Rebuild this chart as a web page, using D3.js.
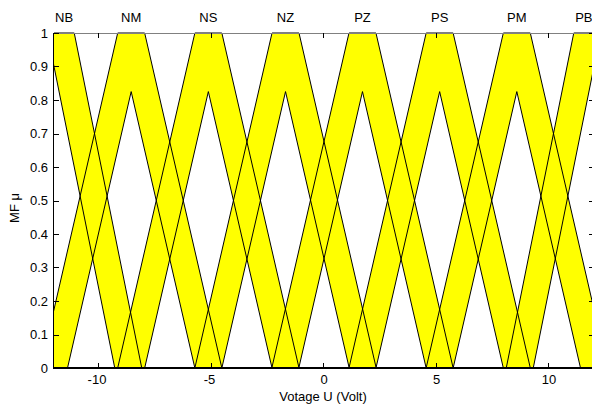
<!DOCTYPE html>
<html>
<head>
<meta charset="utf-8">
<script src="https://cdn.jsdelivr.net/npm/d3@7"></script>
<style>
body { margin: 0; background: #fff; }
svg text { font-family: "Liberation Sans", Arial, Helvetica, sans-serif; font-size: 13px; fill: #000; }
</style>
</head>
<body>
<div id="chart"></div>
<script>
"use strict";
let width = 592;
let height = 405;
let plotLeft = 54, plotRight = 594, plotTop = 33, plotBottom = 368;

// Membership functions (interval type-2): center, half plateau spread, slope width
let mfNames   = ["NB", "NM", "NS", "NZ", "PZ", "PS", "PM", "PB"];
let mfShapes  = ["z", "tri", "tri", "tri", "tri", "tri", "tri", "s"];
let mfCenters = [-11.7, -8.57, -5.14, -1.71, 1.71, 5.14, 8.57, 11.7];
let mfSpread  = [0.6, 0.6, 0.6, 0.6, 0.6, 0.6, 0.6, 0.6];
let mfWidth   = [3.0, 3.43, 3.43, 3.43, 3.43, 3.43, 3.43, 3.0];

let xDomain = [-12, 12];
let xTicks = [-10, -5, 0, 5, 10];
let yTicks = [0, 0.1, 0.2, 0.3, 0.4, 0.5, 0.6, 0.7, 0.8, 0.9, 1];
let xTitle = "Votage U (Volt)";
let yTitle = "MF \u03bc";

let xScale = d3.scaleLinear().domain(xDomain).range([plotLeft, plotRight]);
let yScale = d3.scaleLinear().domain([0, 1]).range([plotBottom, plotTop]);

let svg = d3.select("#chart").append("svg")
    .attr("width", width)
    .attr("height", height);

svg.append("defs").append("clipPath").attr("id", "plotclip")
    .append("rect")
    .attr("x", plotLeft).attr("y", plotTop - 1)
    .attr("width", plotRight - plotLeft).attr("height", plotBottom - plotTop + 2);

// upper and lower membership polylines, extended past the axis and clipped
function upperPoints(i) {
    let c = mfCenters[i], s = mfSpread[i], w = mfWidth[i];
    if (mfShapes[i] === "z") return [[-20, 1], [c + s, 1], [c + s + w, 0], [20, 0]];
    if (mfShapes[i] === "s") return [[-20, 0], [c - s - w, 0], [c - s, 1], [20, 1]];
    return [[-20, 0], [c - s - w, 0], [c - s, 1], [c + s, 1], [c + s + w, 0], [20, 0]];
}
function lowerPoints(i) {
    let c = mfCenters[i], s = mfSpread[i], w = mfWidth[i];
    if (mfShapes[i] === "z") return [[-20, 1], [c - s, 1], [c - s + w, 0], [20, 0]];
    if (mfShapes[i] === "s") return [[-20, 0], [c + s - w, 0], [c + s, 1], [20, 1]];
    return [[-20, 0], [c + s - w, 0], [c, 1 - s / w], [c - s + w, 0], [20, 0]];
}
// label sits in the middle of the visible plateau
function labelX(i) {
    let c = mfCenters[i], s = mfSpread[i];
    if (mfShapes[i] === "z") return (xDomain[0] + Math.min(c + s, xDomain[1])) / 2;
    if (mfShapes[i] === "s") return (Math.max(c - s, xDomain[0]) + xDomain[1]) / 2;
    return c;
}

let line = d3.line().x(function(d) { return xScale(d[0]); }).y(function(d) { return yScale(d[1]); });

let plot = svg.append("g").attr("clip-path", "url(#plotclip)");

// yellow band between upper and lower MF
plot.selectAll("path.band")
    .data(d3.range(mfNames.length))
    .enter()
    .append("path")
    .attr("class", "band")
    .attr("d", function(i) {
        return line(upperPoints(i).concat(lowerPoints(i).slice().reverse())) + "Z";
    })
    .attr("fill", "#ffff00")
    .attr("stroke", "none");

plot.selectAll("path.upper")
    .data(d3.range(mfNames.length))
    .enter()
    .append("path")
    .attr("class", "upper")
    .attr("d", function(i) { return line(upperPoints(i)); })
    .attr("fill", "none")
    .attr("stroke", "#000")
    .attr("stroke-width", 1);

plot.selectAll("path.lower")
    .data(d3.range(mfNames.length))
    .enter()
    .append("path")
    .attr("class", "lower")
    .attr("d", function(i) { return line(lowerPoints(i)); })
    .attr("fill", "none")
    .attr("stroke", "#000")
    .attr("stroke-width", 1);

// MF names above the axes
svg.selectAll("text.mfname")
    .data(d3.range(mfNames.length))
    .enter()
    .append("text")
    .attr("class", "mfname")
    .attr("x", function(i) { return xScale(labelX(i)); })
    .attr("y", 22)
    .attr("text-anchor", "middle")
    .text(function(i) { return mfNames[i]; });

// Axes, MATLAB style with inward ticks
let tickLen = 5.4;
let axisG = svg.append("g").attr("shape-rendering", "crispEdges");

axisG.append("line")
    .attr("x1", plotLeft).attr("x2", plotRight)
    .attr("y1", plotTop + 0.5).attr("y2", plotTop + 0.5)
    .attr("stroke", "#808080");
axisG.append("line")
    .attr("x1", plotLeft).attr("x2", plotRight)
    .attr("y1", plotBottom + 0.5).attr("y2", plotBottom + 0.5)
    .attr("stroke", "#000");
axisG.append("line")
    .attr("x1", plotLeft - 0.5).attr("x2", plotLeft - 0.5)
    .attr("y1", plotTop).attr("y2", plotBottom + 1)
    .attr("stroke", "#000");
axisG.append("line")
    .attr("x1", plotRight - 0.5).attr("x2", plotRight - 0.5)
    .attr("y1", plotTop).attr("y2", plotBottom + 1)
    .attr("stroke", "#000");

xTicks.forEach(function(t) {
    let x = Math.round(xScale(t)) - 0.5;
    axisG.append("line").attr("x1", x).attr("x2", x)
        .attr("y1", plotBottom).attr("y2", plotBottom - tickLen).attr("stroke", "#000");
    axisG.append("line").attr("x1", x).attr("x2", x)
        .attr("y1", plotTop).attr("y2", plotTop + tickLen).attr("stroke", "#000");
    svg.append("text")
        .attr("x", xScale(t) - (t < 0 ? 2 : 0))
        .attr("y", 384)
        .attr("text-anchor", "middle")
        .text(t);
});

yTicks.forEach(function(t) {
    let y = Math.round(yScale(t)) + 0.5;
    axisG.append("line").attr("x1", plotLeft).attr("x2", plotLeft + tickLen)
        .attr("y1", y).attr("y2", y).attr("stroke", "#000");
    axisG.append("line").attr("x1", plotRight).attr("x2", plotRight - tickLen)
        .attr("y1", y).attr("y2", y).attr("stroke", "#000");
    svg.append("text")
        .attr("x", 48)
        .attr("y", yScale(t) + 4.6)
        .attr("text-anchor", "end")
        .text(t);
});

// axis titles
svg.append("text")
    .attr("x", (plotLeft + plotRight) / 2 - 1)
    .attr("y", 401)
    .attr("text-anchor", "middle")
    .text(xTitle);

svg.append("text")
    .attr("transform", "translate(18.5," + 208 + ") rotate(-90)")
    .attr("text-anchor", "middle")
    .text(yTitle);
</script>
</body>
</html>
